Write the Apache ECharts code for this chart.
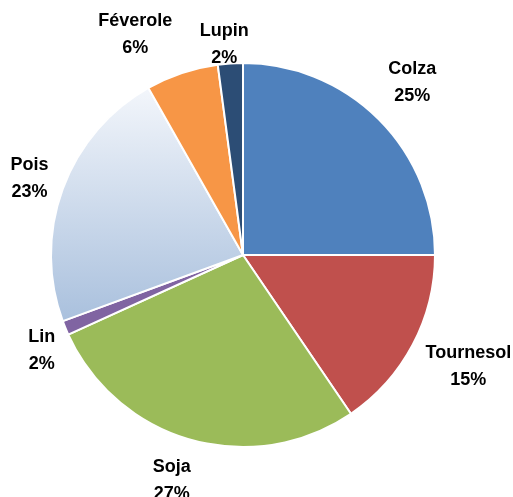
<!DOCTYPE html>
<html>
<head>
<meta charset="utf-8">
<script src="https://cdn.jsdelivr.net/npm/echarts@6/dist/echarts.min.js"></script>
<style>
  html, body { margin: 0; padding: 0; background: #fff; }
  #chart { width: 513px; height: 497px; }
</style>
</head>
<body>
<div id="chart"></div>
<script>
const crops = ['Colza', 'Tournesol', 'Soja', 'Lin', 'Pois', 'Féverole', 'Lupin'];
const shares = [25.0, 15.5, 27.7, 1.2, 22.4, 6.1, 2.1];
const shareLabels = ['25%', '15%', '27%', '2%', '23%', '6%', '2%'];

const sliceColors = [
  '#4f81bd',
  '#c0504d',
  '#9bbb59',
  '#8064a2',
  new echarts.graphic.LinearGradient(0, 0, 0, 1, [
    { offset: 0, color: '#f3f6fb' },
    { offset: 1, color: '#a9c0dd' }
  ]),
  '#f79646',
  '#2c4d75'
];

// small nudges so labels sit where the original placed them
const labelNudge = [[1, -4], [15, 0], [-7, -4], [19, 5], [10, 6], [-32, 5], [-3, 27]];

const chart = echarts.init(document.getElementById('chart'));

chart.setOption({
  backgroundColor: '#fff',
  animation: false,
  series: [
    {
      type: 'pie',
      center: [243, 255],
      radius: [0, 192],
      startAngle: 90,
      label: { show: false },
      labelLine: { show: false },
      emphasis: { disabled: true },
      itemStyle: { borderColor: '#fff', borderWidth: 2 },
      data: crops.map((name, i) => ({
        name,
        value: shares[i],
        itemStyle: { color: sliceColors[i] }
      }))
    },
    {
      type: 'pie',
      silent: true,
      center: [243, 255],
      radius: [192, 278],
      startAngle: 90,
      itemStyle: { color: 'rgba(0,0,0,0)' },
      labelLine: { show: false },
      label: {
        show: true,
        position: 'inside',
        color: '#000',
        fontFamily: 'Liberation Sans, Arial, sans-serif',
        fontWeight: 'bold',
        fontSize: 18,
        lineHeight: 27,
        align: 'center'
      },
      data: crops.map((name, i) => ({
        name,
        value: shares[i],
        label: {
          formatter: name + '\n' + shareLabels[i],
          offset: labelNudge[i]
        }
      }))
    }
  ]
});
</script>
</body>
</html>
